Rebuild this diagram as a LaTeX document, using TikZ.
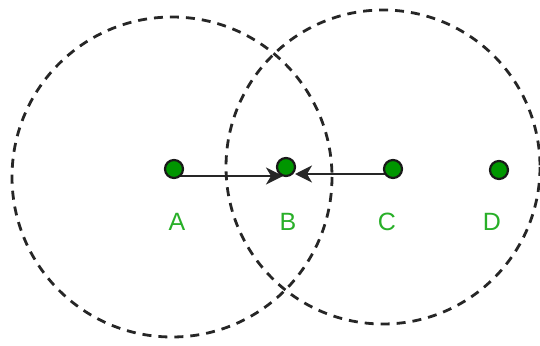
\documentclass[tikz,border=0pt]{standalone}
\usepackage{fontspec}
\setmainfont{Liberation Sans}
\usetikzlibrary{arrows.meta}
\definecolor{dotgreen}{RGB}{0,150,0}
\definecolor{labgreen}{RGB}{40,175,40}
\begin{document}
\begin{tikzpicture}[x=1pt,y=-1pt,
  ring/.style={draw=black!85, line width=2.8pt, dash pattern=on 9pt off 7pt},
  dot/.style={circle, fill=dotgreen, draw=black!90, line width=2.2pt, minimum size=18pt, inner sep=0pt},
  lab/.style={text=labgreen, font=\fontsize{25}{25}\selectfont, inner sep=0pt},
  arr/.style={draw=black!85, line width=2.2pt, -{Stealth[length=17pt,width=17pt,inset=5pt]}}]
\useasboundingbox (0,0) rectangle (540,345);
\draw[ring] (172,177) circle (160);
\draw[ring] (383,167) circle (157);
\coordinate (a1) at (174,176);
\coordinate (b1) at (283,176);
\coordinate (c1) at (393,174);
\coordinate (b2) at (295,174);
\draw[arr] (a1) -- (b1);
\draw[arr] (c1) -- (b2);
\node[dot] (A) at (174,169) {};
\node[dot] (B) at (286,167) {};
\node[dot] (C) at (393,169) {};
\node[dot] (D) at (499,170) {};
\node[lab] (la) at (177,222) {A};
\node[lab] (lb) at (288,222) {B};
\node[lab] (lc) at (387,222) {C};
\node[lab] (ld) at (492,222) {D};
\end{tikzpicture}
\end{document}
